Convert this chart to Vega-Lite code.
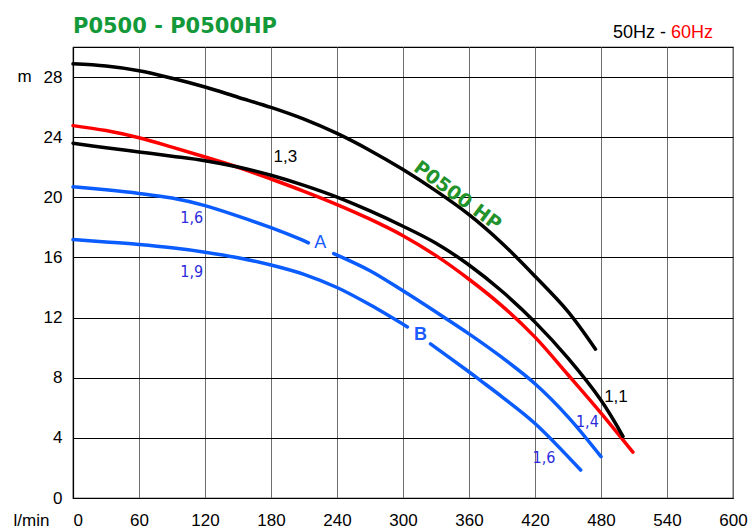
{
  "$schema": "https://vega.github.io/schema/vega-lite/v6.json",
  "width": 660,
  "height": 451,
  "autosize": {"type": "none"},
  "padding": {"left": 73, "top": 47, "right": 20, "bottom": 32},
  "background": "white",
  "config": {"view": {"stroke": "#000", "strokeWidth": 1.2}, "font": "Liberation Sans"},
  "datasets": {
    "curves": [
      {"series": "60Hz", "seg": "R", "q": 0, "h": 24.77},
      {"series": "60Hz", "seg": "R", "q": 30, "h": 24.44},
      {"series": "60Hz", "seg": "R", "q": 60, "h": 23.96},
      {"series": "60Hz", "seg": "R", "q": 90, "h": 23.34},
      {"series": "60Hz", "seg": "R", "q": 120, "h": 22.68},
      {"series": "60Hz", "seg": "R", "q": 150, "h": 22.0},
      {"series": "60Hz", "seg": "R", "q": 180, "h": 21.22},
      {"series": "60Hz", "seg": "R", "q": 210, "h": 20.4},
      {"series": "60Hz", "seg": "R", "q": 240, "h": 19.52},
      {"series": "60Hz", "seg": "R", "q": 270, "h": 18.55},
      {"series": "60Hz", "seg": "R", "q": 300, "h": 17.45},
      {"series": "60Hz", "seg": "R", "q": 330, "h": 16.12},
      {"series": "60Hz", "seg": "R", "q": 360, "h": 14.55},
      {"series": "60Hz", "seg": "R", "q": 390, "h": 12.78},
      {"series": "60Hz", "seg": "R", "q": 420, "h": 10.7},
      {"series": "60Hz", "seg": "R", "q": 450, "h": 8.2},
      {"series": "60Hz", "seg": "R", "q": 480, "h": 5.65},
      {"series": "60Hz", "seg": "R", "q": 509, "h": 3.05},
      {"series": "HP", "seg": "HP", "q": 0, "h": 28.88},
      {"series": "HP", "seg": "HP", "q": 30, "h": 28.73},
      {"series": "HP", "seg": "HP", "q": 60, "h": 28.42},
      {"series": "HP", "seg": "HP", "q": 90, "h": 27.92},
      {"series": "HP", "seg": "HP", "q": 120, "h": 27.34},
      {"series": "HP", "seg": "HP", "q": 150, "h": 26.66},
      {"series": "HP", "seg": "HP", "q": 180, "h": 25.98},
      {"series": "HP", "seg": "HP", "q": 210, "h": 25.2},
      {"series": "HP", "seg": "HP", "q": 240, "h": 24.25},
      {"series": "HP", "seg": "HP", "q": 270, "h": 23.12},
      {"series": "HP", "seg": "HP", "q": 300, "h": 21.85},
      {"series": "HP", "seg": "HP", "q": 330, "h": 20.43},
      {"series": "HP", "seg": "HP", "q": 360, "h": 18.85},
      {"series": "HP", "seg": "HP", "q": 390, "h": 16.95},
      {"series": "HP", "seg": "HP", "q": 420, "h": 14.75},
      {"series": "HP", "seg": "HP", "q": 450, "h": 12.4},
      {"series": "HP", "seg": "HP", "q": 475, "h": 9.9},
      {"series": "50Hz", "seg": "K", "q": 0, "h": 23.6},
      {"series": "50Hz", "seg": "K", "q": 30, "h": 23.3},
      {"series": "50Hz", "seg": "K", "q": 60, "h": 23.02},
      {"series": "50Hz", "seg": "K", "q": 90, "h": 22.74},
      {"series": "50Hz", "seg": "K", "q": 120, "h": 22.44},
      {"series": "50Hz", "seg": "K", "q": 150, "h": 22.02},
      {"series": "50Hz", "seg": "K", "q": 180, "h": 21.47},
      {"series": "50Hz", "seg": "K", "q": 210, "h": 20.8},
      {"series": "50Hz", "seg": "K", "q": 240, "h": 20.02},
      {"series": "50Hz", "seg": "K", "q": 270, "h": 19.1},
      {"series": "50Hz", "seg": "K", "q": 300, "h": 18.08},
      {"series": "50Hz", "seg": "K", "q": 330, "h": 16.95},
      {"series": "50Hz", "seg": "K", "q": 360, "h": 15.5},
      {"series": "50Hz", "seg": "K", "q": 390, "h": 13.75},
      {"series": "50Hz", "seg": "K", "q": 420, "h": 11.7},
      {"series": "50Hz", "seg": "K", "q": 450, "h": 9.3},
      {"series": "50Hz", "seg": "K", "q": 480, "h": 6.5},
      {"series": "50Hz", "seg": "K", "q": 500, "h": 4.1},
      {"series": "A", "seg": "A1", "q": 0, "h": 20.7},
      {"series": "A", "seg": "A1", "q": 30, "h": 20.5},
      {"series": "A", "seg": "A1", "q": 60, "h": 20.26},
      {"series": "A", "seg": "A1", "q": 90, "h": 19.95},
      {"series": "A", "seg": "A1", "q": 120, "h": 19.45},
      {"series": "A", "seg": "A1", "q": 150, "h": 18.75},
      {"series": "A", "seg": "A1", "q": 180, "h": 17.98},
      {"series": "A", "seg": "A1", "q": 206, "h": 17.23},
      {"series": "A", "seg": "A1", "q": 214, "h": 16.97},
      {"series": "A", "seg": "A2", "q": 237, "h": 16.26},
      {"series": "A", "seg": "A2", "q": 270, "h": 15.12},
      {"series": "A", "seg": "A2", "q": 300, "h": 13.78},
      {"series": "A", "seg": "A2", "q": 330, "h": 12.37},
      {"series": "A", "seg": "A2", "q": 360, "h": 10.92},
      {"series": "A", "seg": "A2", "q": 390, "h": 9.35},
      {"series": "A", "seg": "A2", "q": 420, "h": 7.6},
      {"series": "A", "seg": "A2", "q": 450, "h": 5.4},
      {"series": "A", "seg": "A2", "q": 480, "h": 2.75},
      {"series": "B", "seg": "B1", "q": 0, "h": 17.19},
      {"series": "B", "seg": "B1", "q": 30, "h": 17.03},
      {"series": "B", "seg": "B1", "q": 60, "h": 16.86},
      {"series": "B", "seg": "B1", "q": 90, "h": 16.64},
      {"series": "B", "seg": "B1", "q": 120, "h": 16.35},
      {"series": "B", "seg": "B1", "q": 150, "h": 15.98},
      {"series": "B", "seg": "B1", "q": 180, "h": 15.5},
      {"series": "B", "seg": "B1", "q": 210, "h": 14.88},
      {"series": "B", "seg": "B1", "q": 240, "h": 14.0},
      {"series": "B", "seg": "B1", "q": 270, "h": 12.85},
      {"series": "B", "seg": "B1", "q": 304, "h": 11.38},
      {"series": "B", "seg": "B2", "q": 325, "h": 10.25},
      {"series": "B", "seg": "B2", "q": 358, "h": 8.5},
      {"series": "B", "seg": "B2", "q": 370, "h": 7.84},
      {"series": "B", "seg": "B2", "q": 390, "h": 6.73},
      {"series": "B", "seg": "B2", "q": 420, "h": 4.96},
      {"series": "B", "seg": "B2", "q": 461.5, "h": 1.86}
    ]
  },
  "layer": [
    {
      "data": {"name": "curves"},
      "mark": {"type": "line", "interpolate": "catmull-rom", "strokeWidth": 3.5, "strokeCap": "round", "clip": false},
      "encoding": {
        "x": {
          "field": "q", "type": "quantitative",
          "scale": {"domain": [0, 600], "nice": false, "zero": false},
          "axis": {
            "values": [0, 30, 60, 90, 120, 150, 180, 210, 240, 270, 300, 330, 360, 390, 420, 450, 480, 510, 540, 570, 600],
            "labelExpr": "datum.value % 60 == 0 ? datum.label : ''",
            "grid": true, "gridColor": "#6e6e6e", "gridWidth": 1, "gridOpacity": 1,
            "ticks": false, "tickSize": 0,
            "domain": true, "domainColor": "#000", "domainWidth": 1.2,
            "labelFont": "Liberation Sans", "labelFontSize": 17, "labelColor": "#000",
            "labelBaseline": "alphabetic", "labelPadding": 27,
            "labelAlign": {"condition": {"test": "datum.value == 0", "value": "left"}, "value": "center"},
            "labelOverlap": false,
            "title": "l/min", "titleFont": "Liberation Sans", "titleFontSize": 17, "titleFontWeight": "normal", "titleColor": "#000",
            "titleX": -42, "titleY": 27, "titleAlign": "center", "titleBaseline": "alphabetic"
          }
        },
        "y": {
          "field": "h", "type": "quantitative",
          "scale": {"domain": [0, 30], "nice": false, "zero": false},
          "axis": {
            "values": [0, 2, 4, 6, 8, 10, 12, 14, 16, 18, 20, 22, 24, 26, 28, 30],
            "labelExpr": "datum.value % 4 == 0 && datum.value < 30 ? datum.label : ''",
            "grid": true, "gridColor": "#000", "gridWidth": 1, "gridOpacity": 1,
            "ticks": false, "tickSize": 0,
            "domain": true, "domainColor": "#000", "domainWidth": 1.2,
            "labelFont": "Liberation Sans", "labelFontSize": 17, "labelColor": "#000",
            "labelBaseline": "middle", "labelPadding": 11, "labelOverlap": false,
            "title": "m", "titleFont": "Liberation Sans", "titleFontSize": 17, "titleFontWeight": "normal", "titleColor": "#000",
            "titleAngle": 0, "titleX": -49, "titleY": 29, "titleAlign": "center", "titleBaseline": "middle"
          }
        },
        "color": {
          "field": "series", "type": "nominal",
          "scale": {"domain": ["60Hz", "HP", "50Hz", "A", "B"], "range": ["#ff0000", "#000000", "#000000", "#0a5cff", "#0a5cff"]},
          "legend": null
        },
        "detail": {"field": "seg", "type": "nominal"},
        "order": {"field": "q", "type": "quantitative"}
      }
    },
    {
      "data": {"values": [{"label": "1,3", "q": 193, "h": 22.68}, {"label": "1,1", "q": 493.6, "h": 6.73}]},
      "mark": {"type": "text", "font": "Liberation Sans", "fontSize": 17, "color": "#000", "align": "center", "baseline": "middle"},
      "encoding": {"x": {"field": "q", "type": "quantitative"}, "y": {"field": "h", "type": "quantitative"}, "text": {"field": "label"}}
    },
    {
      "data": {"values": [{"label": "1,6", "q": 107.9, "h": 18.62}, {"label": "1,9", "q": 107.9, "h": 15.04}, {"label": "1,4", "q": 467.6, "h": 5.07}, {"label": "1,6", "q": 428.2, "h": 2.64}]},
      "mark": {"type": "text", "font": "DejaVu Sans Condensed, Liberation Sans, sans-serif", "fontSize": 16, "color": "#2b2bdc", "align": "center", "baseline": "middle"},
      "encoding": {"x": {"field": "q", "type": "quantitative"}, "y": {"field": "h", "type": "quantitative"}, "text": {"field": "label"}}
    },
    {
      "data": {"values": [{"label": "A", "q": 224.8, "h": 16.99}]},
      "mark": {"type": "text", "font": "Liberation Sans", "fontSize": 18, "color": "#1a5cff", "align": "center", "baseline": "middle"},
      "encoding": {"x": {"field": "q", "type": "quantitative"}, "y": {"field": "h", "type": "quantitative"}, "text": {"field": "label"}}
    },
    {
      "data": {"values": [{"label": "B", "q": 316, "h": 10.83}]},
      "mark": {"type": "text", "font": "Liberation Sans", "fontSize": 18, "fontWeight": "bold", "color": "#1a5cff", "align": "center", "baseline": "middle"},
      "encoding": {"x": {"field": "q", "type": "quantitative"}, "y": {"field": "h", "type": "quantitative"}, "text": {"field": "label"}}
    },
    {
      "data": {"values": [{"label": "P0500 HP", "q": 349.5, "h": 20.1}]},
      "mark": {"type": "text", "font": "DejaVu Sans", "fontSize": 19, "fontWeight": "bold", "color": "#22922a", "align": "center", "baseline": "middle", "angle": 36.5},
      "encoding": {"x": {"field": "q", "type": "quantitative"}, "y": {"field": "h", "type": "quantitative"}, "text": {"field": "label"}}
    },
    {
      "data": {"values": [{"label": "P0500 - P0500HP", "q": 0, "h": 30.9}]},
      "mark": {"type": "text", "font": "DejaVu Sans", "fontSize": 21, "fontWeight": "bold", "color": "#14993a", "align": "left", "baseline": "alphabetic", "clip": false},
      "encoding": {"x": {"field": "q", "type": "quantitative"}, "y": {"field": "h", "type": "quantitative"}, "text": {"field": "label"}}
    },
    {
      "data": {"values": [{"label": "50Hz -", "q": 539, "h": 30.63}]},
      "mark": {"type": "text", "font": "Liberation Sans", "fontSize": 18, "color": "#000", "align": "right", "baseline": "alphabetic", "clip": false},
      "encoding": {"x": {"field": "q", "type": "quantitative"}, "y": {"field": "h", "type": "quantitative"}, "text": {"field": "label"}}
    },
    {
      "data": {"values": [{"label": "60Hz", "q": 543.6, "h": 30.63}]},
      "mark": {"type": "text", "font": "Liberation Sans", "fontSize": 18, "color": "#ff0000", "align": "left", "baseline": "alphabetic", "clip": false},
      "encoding": {"x": {"field": "q", "type": "quantitative"}, "y": {"field": "h", "type": "quantitative"}, "text": {"field": "label"}}
    }
  ]
}
